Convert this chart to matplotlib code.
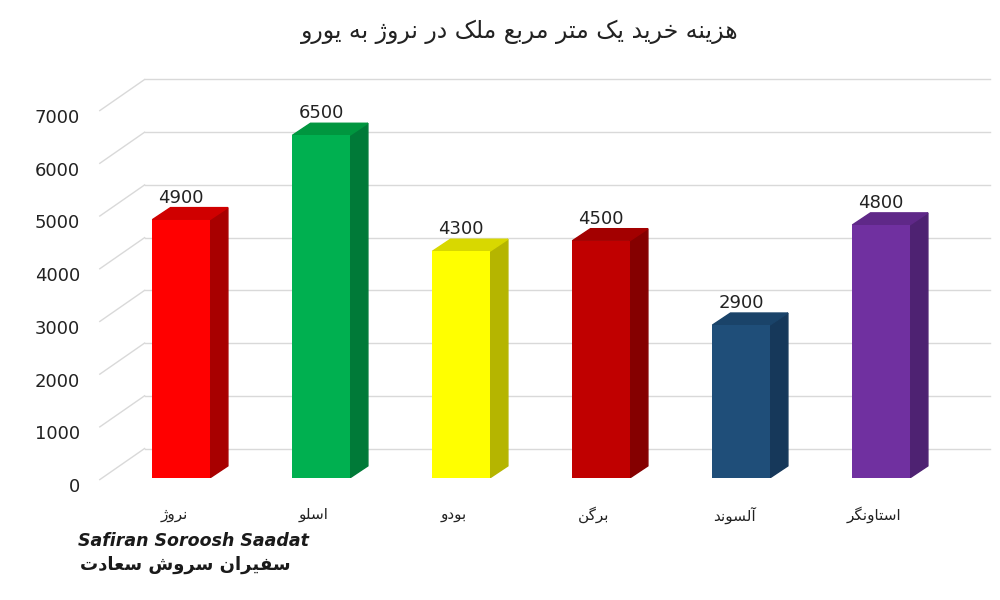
import matplotlib
matplotlib.use("Agg")
import matplotlib.pyplot as plt
from matplotlib.patches import Polygon

# --- minimal Persian shaping (presentation forms, visual order) ---
FORMS = {  # isolated, final, initial, medial
    'ا': (0xFE8D, 0xFE8E, None, None), 'آ': (0xFE81, 0xFE82, None, None),
    'ب': (0xFE8F, 0xFE90, 0xFE91, 0xFE92), 'ت': (0xFE95, 0xFE96, 0xFE97, 0xFE98),
    'خ': (0xFEA5, 0xFEA6, 0xFEA7, 0xFEA8), 'د': (0xFEA9, 0xFEAA, None, None),
    'ر': (0xFEAD, 0xFEAE, None, None), 'ز': (0xFEAF, 0xFEB0, None, None),
    'ژ': (0xFB8A, 0xFB8B, None, None), 'س': (0xFEB1, 0xFEB2, 0xFEB3, 0xFEB4),
    'ع': (0xFEC9, 0xFECA, 0xFECB, 0xFECC), 'ک': (0xFB8E, 0xFB8F, 0xFB90, 0xFB91),
    'گ': (0xFB92, 0xFB93, 0xFB94, 0xFB95), 'ل': (0xFEDD, 0xFEDE, 0xFEDF, 0xFEE0),
    'م': (0xFEE1, 0xFEE2, 0xFEE3, 0xFEE4), 'ن': (0xFEE5, 0xFEE6, 0xFEE7, 0xFEE8),
    'ه': (0xFEE9, 0xFEEA, 0xFEEB, 0xFEEC), 'و': (0xFEED, 0xFEEE, None, None),
    'ی': (0xFBFC, 0xFBFD, 0xFBFE, 0xFBFF), 'ف': (0xFED1, 0xFED2, 0xFED3, 0xFED4),
    'ش': (0xFEB5, 0xFEB6, 0xFEB7, 0xFEB8),
}

def dual(c):
    return c in FORMS and FORMS[c][2] is not None

def shape(s):
    out = []
    for i, c in enumerate(s):
        if c not in FORMS:
            out.append(c); continue
        prev = s[i-1] if i > 0 else ''
        nxt = s[i+1] if i + 1 < len(s) else ''
        jp = dual(prev)
        jn = dual(c) and nxt in FORMS
        f = FORMS[c]
        if jp and jn: ch = f[3]
        elif jp: ch = f[1]
        elif jn: ch = f[2]
        else: ch = f[0]
        out.append(chr(ch))
    return ''.join(out[::-1])

# --- data ---
title = "هزینه خرید یک متر مربع ملک در نروژ به یورو"
categories = ["نروژ", "اسلو", "بودو", "برگن", "آلسوند", "استاونگر"]
values = [4900, 6500, 4300, 4500, 2900, 4800]
front_colors = ["#FF0000", "#00B050", "#FFFF00", "#C00000", "#1F4E79", "#7030A0"]
side_colors = ["#A80000", "#007A38", "#B5B500", "#850000", "#16385A", "#4E2272"]
top_colors = ["#D00000", "#00963F", "#D8D800", "#A30000", "#1A4369", "#5F2888"]
yticks = [0, 1000, 2000, 3000, 4000, 5000, 6000, 7000]

plt.rcParams['font.family'] = ['DejaVu Sans']
fig = plt.figure(figsize=(10, 6), dpi=100)
ax = fig.add_axes([0.111, 0.2033, 0.84, 0.615])
ax.set_xlim(-0.5, 5.5)
ax.set_ylim(0, 7000)
ax.axis('off')

# perspective gridlines
gdx, gdy = 0.32, 560
for v in yticks:
    ax.plot([-0.58, -0.58 + gdx], [v - 30, v + gdy], color="#D9D9D9", lw=1, clip_on=False, zorder=0)
    ax.plot([-0.58 + gdx, 5.78], [v + gdy, v + gdy], color="#D9D9D9", lw=1, clip_on=False, zorder=0)
    ax.text(-0.72, v - 170, str(v), ha='right', va='center', fontsize=13, color="#222222")

w = 0.41
dx, dy = 0.13, 230
x = list(range(len(values)))
ax.bar(x, values, width=w, color=front_colors, zorder=3)
for i, v in enumerate(values):
    r = i + w / 2; l = i - w / 2
    ax.add_patch(Polygon([(r, 0), (r + dx, dy), (r + dx, v + dy), (r, v)],
                         closed=True, color=side_colors[i], zorder=2))
    ax.add_patch(Polygon([(l, v), (r, v), (r + dx, v + dy), (l + dx, v + dy)],
                         closed=True, color=top_colors[i], zorder=2))
    ax.text(i, v + 250, str(v), ha='center', va='bottom', fontsize=13, color="#222222")
    ax.text(i - 0.05, -700, shape(categories[i]), ha='center', va='center',
            fontsize=11, color="#222222")

fig.text(0.52, 0.947, shape(title), ha='center', va='center', fontsize=17, color="#222222")
fig.text(0.078, 0.098, "Safiran Soroosh Saadat", ha='left', va='center', fontsize=12.5,
         fontweight='bold', style='italic', color="#1a1a1a")
fig.text(0.185, 0.058, shape("سفیران سروش سعادت"), ha='center', va='center', fontsize=13,
         fontweight='bold', color="#1a1a1a")

fig.savefig("out.png", dpi=100)
